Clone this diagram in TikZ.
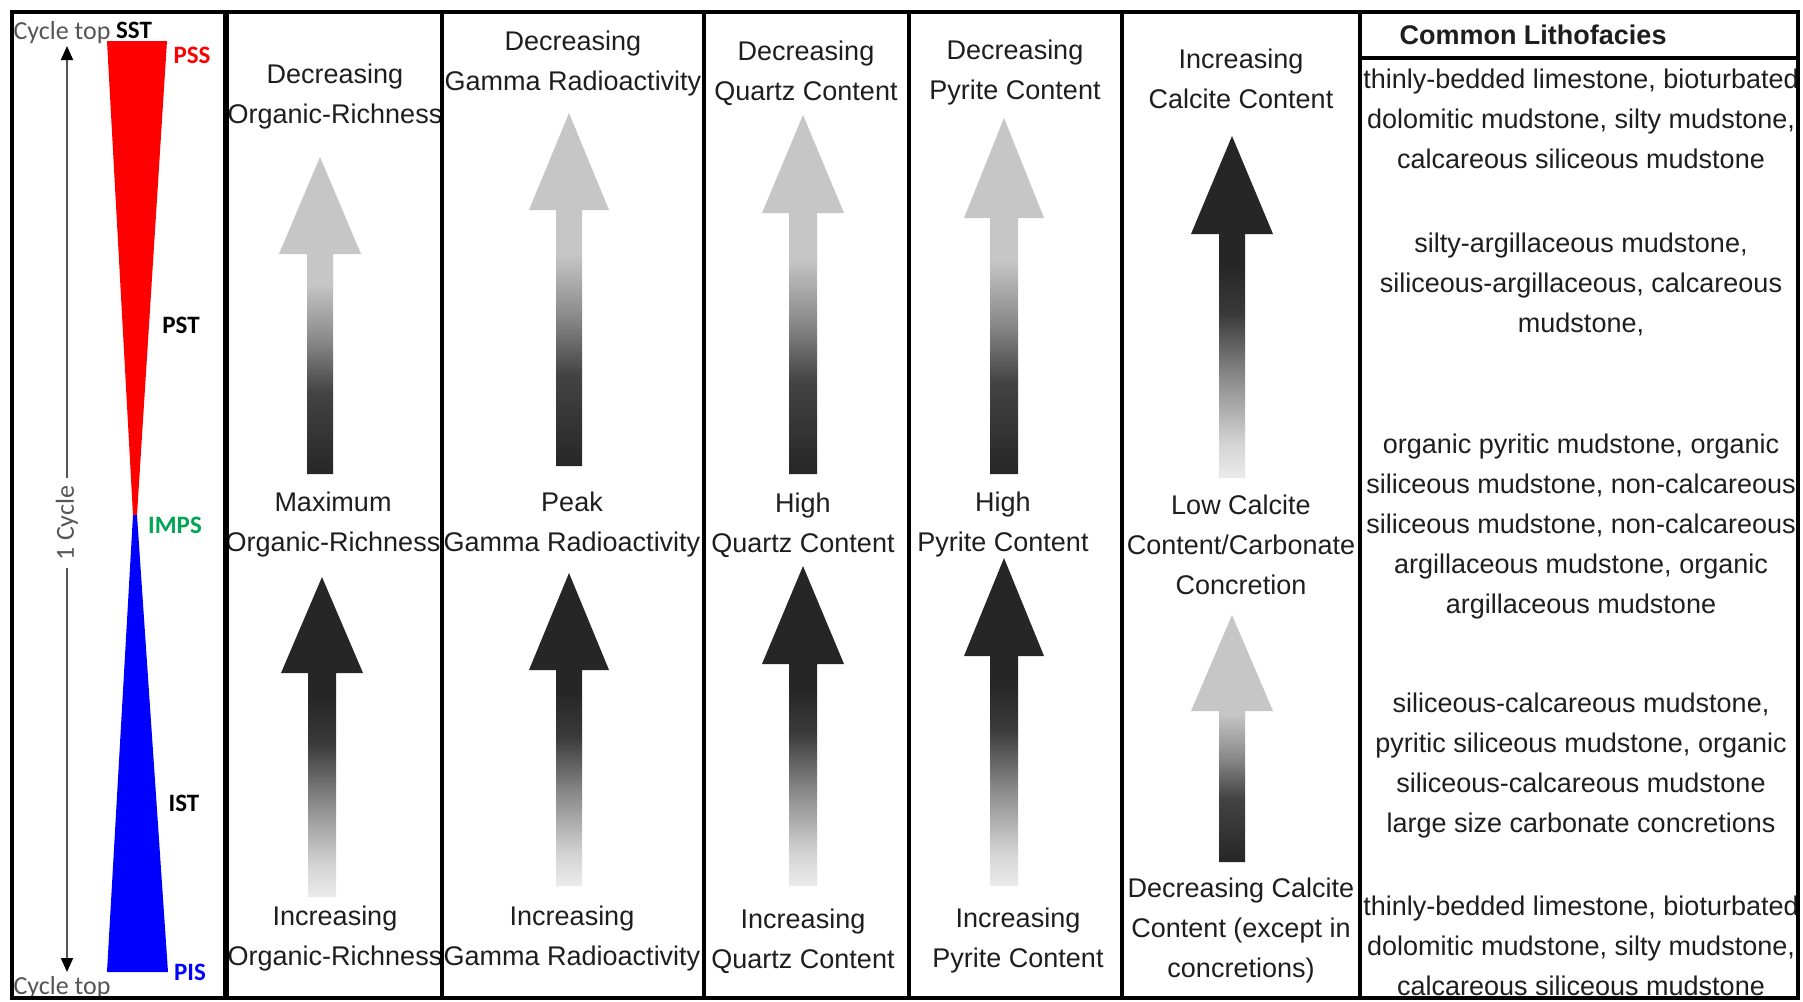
\documentclass[tikz,border=0pt]{standalone}
\usepackage{fontspec}
\setmainfont{Liberation Sans}
\newfontfamily\cyclefont{Carlito}
\usetikzlibrary{arrows.meta}
\definecolor{txt}{HTML}{1E1E1E}
\definecolor{cyc}{HTML}{555555}
\definecolor{impsgreen}{HTML}{00A651}
\definecolor{ga}{HTML}{262626}
\definecolor{gb}{HTML}{444444}
\definecolor{gc}{HTML}{888888}
\definecolor{gd}{HTML}{C6C6C6}
\definecolor{ge}{HTML}{EBEBEB}
\definecolor{gf}{HTML}{D4D4D4}
\definecolor{gg}{HTML}{3A3A3A}
\pgfdeclareverticalshading{lightup}{100bp}{color(0bp)=(ga); color(25bp)=(ga); color(38bp)=(gb); color(46bp)=(gc); color(55bp)=(gd); color(100bp)=(gd)}
\pgfdeclareverticalshading{darkup}{100bp}{color(0bp)=(ge); color(25bp)=(ge); color(30bp)=(gf); color(40bp)=(gc); color(49bp)=(gg); color(56bp)=(ga); color(100bp)=(ga)}
\newcommand{\barrow}[7]{\shade[shading=#1] (#2,#3) -- ({#2+#6},#4) -- ({#2+#7},#4) -- ({#2+#7},#5) -- ({#2-#7},#5) -- ({#2-#7},#4) -- ({#2-#6},#4) -- cycle;}
\tikzset{
  lbl/.style={align=center, font=\fontsize{13.5}{20}\selectfont, text=txt, inner sep=0pt},
  hdr/.style={font=\bfseries\fontsize{13.5}{20}\selectfont, text=txt, inner sep=0pt},
  cyclbl/.style={font=\cyclefont\fontsize{13}{14}\selectfont, text=cyc, inner sep=0pt},
  seqlbl/.style={font=\cyclefont\bfseries\fontsize{12.5}{14}\selectfont, inner sep=0pt},
  frame/.style={line width=2pt, draw=black},
  divline/.style={line width=1.8pt, draw=black},
  cycarrow/.style={line width=1pt, draw=cyc, {Triangle[length=7pt,width=6pt,color=black]}-{Triangle[length=7pt,width=6pt,color=black]}}
}
\begin{document}
\begin{tikzpicture}[x=0.5pt, y=-0.5pt]
\fill[white] (0,0) rectangle (1803,1001);
\useasboundingbox (0,0) rectangle (1803,1001);

% sequence wedge
\fill[red] (107,41) -- (167,41) -- (137,515) -- (133,515) -- cycle;
\fill[blue] (133,515) -- (137,515) -- (168,972) -- (107,972) -- cycle;

% cycle arrow
\coordinate (cyctop) at (67,46);
\coordinate (cycbot) at (67,972);
\draw[cycarrow] (cyctop) -- node[pos=0.515, fill=white, rotate=90, cyclbl, inner xsep=4pt] (cyclabel) {1 Cycle} (cycbot);

\node[cyclbl] (cycletop) at (62,33) {Cycle top};
\node[cyclbl] (cyclebot) at (62,988) {Cycle top};
\node[seqlbl, text=black] (sst) at (134,30) {SST};
\node[seqlbl, text=red] (pss) at (192,55) {PSS};
\node[seqlbl, text=black] (pst) at (181,325) {PST};
\node[seqlbl, text=impsgreen] (imps) at (175,525) {IMPS};
\node[seqlbl, text=black] (ist) at (184,803) {IST};
\node[seqlbl, text=blue] (pis) at (190,972) {PIS};

% block arrows, upper
\barrow{lightup}{320}{157}{254}{474}{41}{13}
\barrow{lightup}{569}{113}{210}{466}{40}{13}
\barrow{lightup}{803}{115}{213}{474}{41}{14}
\barrow{lightup}{1004}{118}{218}{474}{40}{14}
\barrow{darkup}{1232}{136}{234}{478}{41}{13}
% block arrows, lower
\barrow{darkup}{322}{577}{673}{897}{41}{14}
\barrow{darkup}{569}{573}{670}{886}{40}{13}
\barrow{darkup}{803}{566}{664}{886}{41}{14}
\barrow{darkup}{1004}{558}{656}{886}{40}{14}
\barrow{lightup}{1232}{615}{711}{862}{41}{13}

% column texts
\node[lbl] (h1) at (335,97) {Decreasing\\Organic-Richness};
\node[lbl] (h2) at (573,64) {Decreasing\\Gamma Radioactivity};
\node[lbl] (h3) at (806,73) {Decreasing\\Quartz Content};
\node[lbl] (h4) at (1015,73) {Decreasing\\Pyrite Content};
\node[lbl] (h5) at (1241,79) {Increasing\\Calcite Content};

\node[lbl] (m1) at (333,525) {Maximum\\Organic-Richness};
\node[lbl] (m2) at (572,525) {Peak\\Gamma Radioactivity};
\node[lbl] (m3) at (803,525) {High\\Quartz Content};
\node[lbl] (m4) at (1003,525) {High\\Pyrite Content};
\node[lbl] (m5) at (1241,545) {Low Calcite\\Content/Carbonate\\Concretion};

\node[lbl] (b1) at (335,939) {Increasing\\Organic-Richness};
\node[lbl] (b2) at (572,939) {Increasing\\Gamma Radioactivity};
\node[lbl] (b3) at (803,941) {Increasing\\Quartz Content};
\node[lbl] (b4) at (1018,941) {Increasing\\Pyrite Content};
\node[lbl] (b5) at (1241,930) {Decreasing Calcite\\Content (except in\\concretions)};

% lithofacies
\node[hdr] (lithhdr) at (1533,35) {Common Lithofacies};
\node[lbl] (lf1) at (1581,119) {thinly-bedded limestone, bioturbated\\dolomitic mudstone, silty mudstone,\\calcareous siliceous mudstone};
\node[lbl] (lf2) at (1581,284) {silty-argillaceous mudstone,\\siliceous-argillaceous, calcareous\\mudstone,};
\node[lbl] (lf3) at (1581,527) {organic pyritic mudstone, organic\\siliceous mudstone, non-calcareous\\siliceous mudstone, non-calcareous\\argillaceous mudstone, organic\\argillaceous mudstone};
\node[lbl] (lf4) at (1581,766) {siliceous-calcareous mudstone,\\pyritic siliceous mudstone, organic\\siliceous-calcareous mudstone\\large size carbonate concretions};
\node[lbl] (lf5) at (1581,946) {thinly-bedded limestone, bioturbated\\dolomitic mudstone, silty mudstone,\\calcareous siliceous mudstone};

% table lines
\draw[divline] (442,12) -- (442,998);
\draw[divline] (704,12) -- (704,998);
\draw[divline] (909,12) -- (909,998);
\draw[divline] (1122,12) -- (1122,998);
\draw[divline] (1360,12) -- (1360,998);
\draw[line width=3pt] (226,12) -- (226,998);
\draw[frame] (1360,58) -- (1798,58);
\draw[frame] (12,12) rectangle (1798,998);
\end{tikzpicture}
\end{document}
